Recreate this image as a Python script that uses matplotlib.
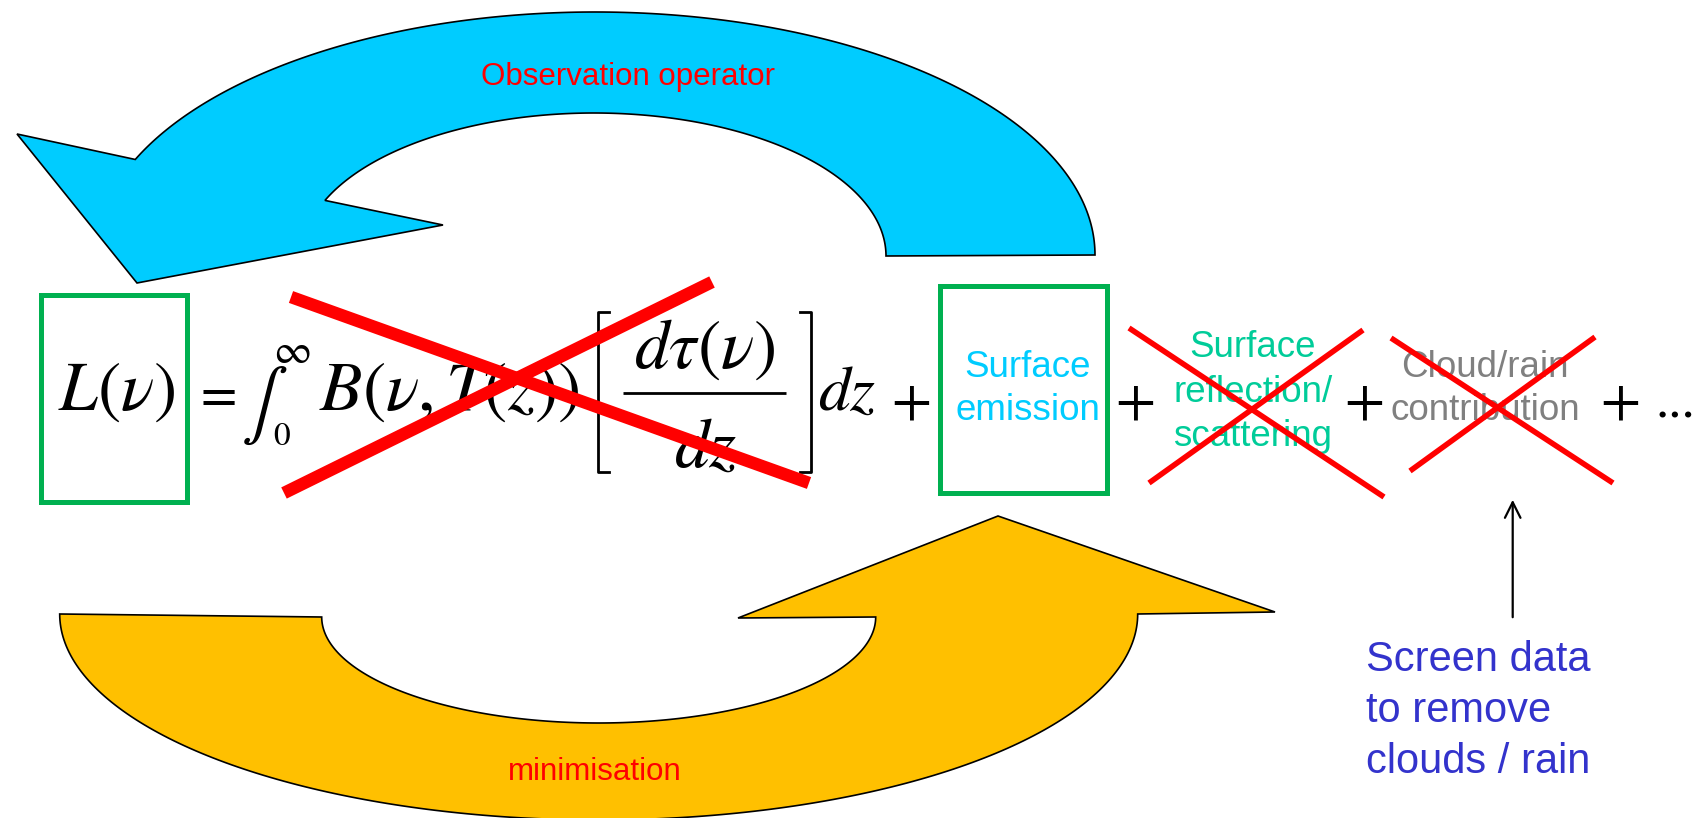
import numpy as np
import matplotlib as mpl
import matplotlib.pyplot as plt
from matplotlib.patches import Polygon, Rectangle

mpl.rcParams['mathtext.fontset'] = 'stix'
mpl.rcParams['font.family'] = ['Liberation Sans', 'DejaVu Sans']

# text of the diagram
loop_labels = ['Observation operator', 'minimisation']
term_labels = ['Surface\nemission', 'Surface\nreflection/\nscattering', 'Cloud/rain\ncontribution']
term_colors = ['#00CCFF', '#00CC99', '#808080']
note_label = 'Screen data\nto remove\nclouds / rain'

fig = plt.figure(figsize=(17.06, 8.18), dpi=100)
ax = fig.add_axes([0, 0, 1, 1])
ax.set_xlim(0, 1706)
ax.set_ylim(818, 0)
ax.axis('off')


def arc(cx, cy, a, b, t0, t1, n=200):
    t = np.linspace(t0, t1, n)
    return np.column_stack([cx + a*np.cos(t), cy + b*np.sin(t)])


## BLUE ARROW (top, pointing left / down)
ocx, ocy, oa, ob = 595, 255, 500, -243
icx, icy, ia, ib = 594, 256, 292, -143
t_out = np.arctan2((159 - ocy)/ob, (133 - ocx)/oa)
t_in = np.arctan2((200 - icy)/ib, (323 - icx)/ia)
pts = np.vstack([arc(ocx, ocy, oa, ob, 0, t_out),
                 [[17, 134], [137, 283], [443, 225]],
                 arc(icx, icy, ia, ib, t_in, 0)])
ax.add_patch(Polygon(pts, closed=True, fc='#00CCFF', ec='k', lw=1.2, zorder=1))

## YELLOW ARROW (bottom, pointing up)
ocx, ocy, oa, ob = 598.7, 614, 539, 206
icx, icy, ia, ib = 598.7, 617, 277, 106
pts = np.vstack([arc(icx, icy, ia, ib, np.pi, 0),
                 [[738, 618], [998, 516], [1275, 612]],
                 arc(ocx, ocy, oa, ob, 0, np.pi)])
ax.add_patch(Polygon(pts, closed=True, fc='#FFC000', ec='k', lw=1.2, zorder=1))

ax.text(628, 85, loop_labels[0], color='red', fontsize=22.5, ha='center', va='baseline')
ax.text(595, 780, loop_labels[1], color='red', fontsize=22.5, ha='center', va='baseline')

## EQUATION
ax.text(116, 410, r'$L(\nu)$', fontsize=50, ha='center', va='baseline')
ax.text(215, 410, r'$=$', fontsize=38, ha='center', va='baseline')
ax.text(264, 406, r'$\int$', fontsize=50, ha='center', va='center')
ax.text(282, 445, r'$0$', fontsize=24, ha='center', va='baseline')
ax.text(292, 352, r'$\infty$', fontsize=30, ha='center', va='center')
ax.text(319, 410, r'$B(\nu,T(z))$', fontsize=50, ha='left', va='baseline')
# bracketed fraction
ax.text(704, 368, r'$d\tau(\nu)$', fontsize=50, ha='center', va='baseline')
ax.text(706, 467, r'$dz$', fontsize=50, ha='center', va='baseline')
ax.plot([623, 786], [393, 393], color='k', lw=2, solid_capstyle='butt')
ax.plot([609, 598, 598, 609], [312, 312, 472, 472], color='k', lw=2)
ax.plot([800, 811, 811, 800], [312, 312, 472, 472], color='k', lw=2)
ax.text(818, 410, r'$dz$', fontsize=46, ha='left', va='baseline')
for xp in [911, 1135, 1364, 1620]:
    ax.text(xp, 402, r'$+$', fontsize=42, ha='center', va='center')
ax.text(1656, 418, '...', family='Liberation Serif', fontsize=38, ha='left', va='baseline')

ax.add_patch(Rectangle((41, 294.5), 146, 207, fill=False, ec='#00B050', lw=3.6, zorder=2))
ax.add_patch(Rectangle((940, 285.5), 167, 207, fill=False, ec='#00B050', lw=3.6, zorder=2))

ax.text(1028, 389, term_labels[0], color=term_colors[0], fontsize=26.5, ha='center', va='center', linespacing=1.3)
ax.text(1253, 392, term_labels[1], color=term_colors[1], fontsize=26.5, ha='center', va='center', linespacing=1.35)
ax.text(1485, 389, term_labels[2], color=term_colors[2], fontsize=26.5, ha='center', va='center', linespacing=1.28)

## RED CROSSES
ax.plot([291, 809], [297, 483], color='red', lw=9, solid_capstyle='butt', zorder=3)
ax.plot([284, 712], [493, 282], color='red', lw=9, solid_capstyle='butt', zorder=3)
ax.plot([1129, 1384], [328, 497], color='red', lw=4, solid_capstyle='butt', zorder=3)
ax.plot([1149, 1363], [483, 330], color='red', lw=4, solid_capstyle='butt', zorder=3)
ax.plot([1391, 1613], [338, 483], color='red', lw=4, solid_capstyle='butt', zorder=3)
ax.plot([1410, 1595], [471, 337], color='red', lw=4, solid_capstyle='butt', zorder=3)

## SCREENING NOTE
ax.annotate('', xy=(1512.7, 497), xytext=(1512.7, 620),
            arrowprops=dict(arrowstyle='->', lw=1.6, color='k', mutation_scale=28))
ax.text(1366, 773, note_label, color='#3333CC', fontsize=30, ha='left', va='baseline', linespacing=1.35)

plt.savefig('out.png', dpi=100)
